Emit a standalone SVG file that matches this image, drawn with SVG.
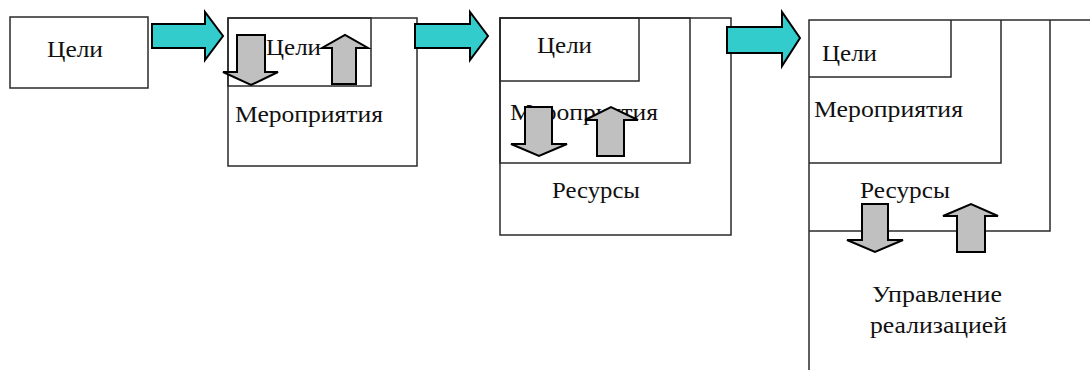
<svg xmlns="http://www.w3.org/2000/svg" width="1090" height="370" viewBox="0 0 1090 370">
<style>
.box{fill:none;stroke:#2a2a2a;stroke-width:1.5}
.t{font-family:"Liberation Serif","Times New Roman",serif;font-size:24px;fill:#111}
.cy{fill:#33cccc;stroke:#000;stroke-width:2;stroke-linejoin:miter}
.gr{fill:#c0c0c0;stroke:#000;stroke-width:2;stroke-linejoin:miter}
</style>
<rect width="1090" height="370" fill="#fff"/>
<g id="stage1">
<rect class="box" x="10" y="17" width="138" height="71"/>
<text class="t" x="47" y="57" textLength="56" lengthAdjust="spacingAndGlyphs">Цели</text>
</g>
<g id="stage2">
<rect class="box" x="228" y="18" width="189" height="148"/>
<rect class="box" x="228" y="18" width="143" height="68"/>
<text class="t" x="266" y="55" textLength="55" lengthAdjust="spacingAndGlyphs">Цели</text>
<text class="t" x="235" y="122" textLength="148" lengthAdjust="spacingAndGlyphs">Мероприятия</text>
<polygon class="gr" points="237,35 265,35 265,72 278,72 251,85 223,72 237,72"/>
<polygon class="gr" points="332,84 356,84 356,48 368,48 345,35 322,48 332,48"/>
</g>
<g id="stage3">
<rect class="box" x="500" y="18" width="231" height="217"/>
<rect class="box" x="500" y="18" width="190" height="145"/>
<rect class="box" x="500" y="18" width="139" height="63"/>
<text class="t" x="537" y="53" textLength="55" lengthAdjust="spacingAndGlyphs">Цели</text>
<text class="t" x="510" y="120" textLength="148" lengthAdjust="spacingAndGlyphs">Мероприятия</text>
<text class="t" x="552" y="198" textLength="88" lengthAdjust="spacingAndGlyphs">Ресурсы</text>
<polygon class="gr" points="525,107 552,107 552,144 567,144 539,156 511,144 525,144"/>
<polygon class="gr" points="597,156 624,156 624,120 638,120 611,107 585,120 597,120"/>
</g>
<g id="stage4">
<polyline class="box" points="809,370 809,20 1090,20"/>
<polyline class="box" points="809,231 1050,231 1050,20"/>
<polyline class="box" points="809,163 1001,163 1001,20"/>
<polyline class="box" points="809,77 951,77 951,20"/>
<text class="t" x="822" y="61" textLength="55" lengthAdjust="spacingAndGlyphs">Цели</text>
<text class="t" x="814" y="117" textLength="149" lengthAdjust="spacingAndGlyphs">Мероприятия</text>
<text class="t" x="860" y="198" textLength="90" lengthAdjust="spacingAndGlyphs">Ресурсы</text>
<text class="t" x="872" y="302" textLength="130" lengthAdjust="spacingAndGlyphs">Управление</text>
<text class="t" x="870" y="333" textLength="137" lengthAdjust="spacingAndGlyphs">реализацией</text>
<polygon class="gr" points="862,204 888,204 888,240 903,240 875,252 847,240 862,240"/>
<polygon class="gr" points="957,252 985,252 985,216 998,216 971,204 943,216 957,216"/>
</g>
<g id="connectors">
<polygon class="cy" points="152,24 205,24 205,12 223,36 205,60 205,48 152,48"/>
<polygon class="cy" points="415,24 470,24 470,12 488,36 470,60 470,48 415,48"/>
<polygon class="cy" points="727,27 782,27 782,12 800,38 782,66 782,53 727,53"/>
</g>
</svg>
